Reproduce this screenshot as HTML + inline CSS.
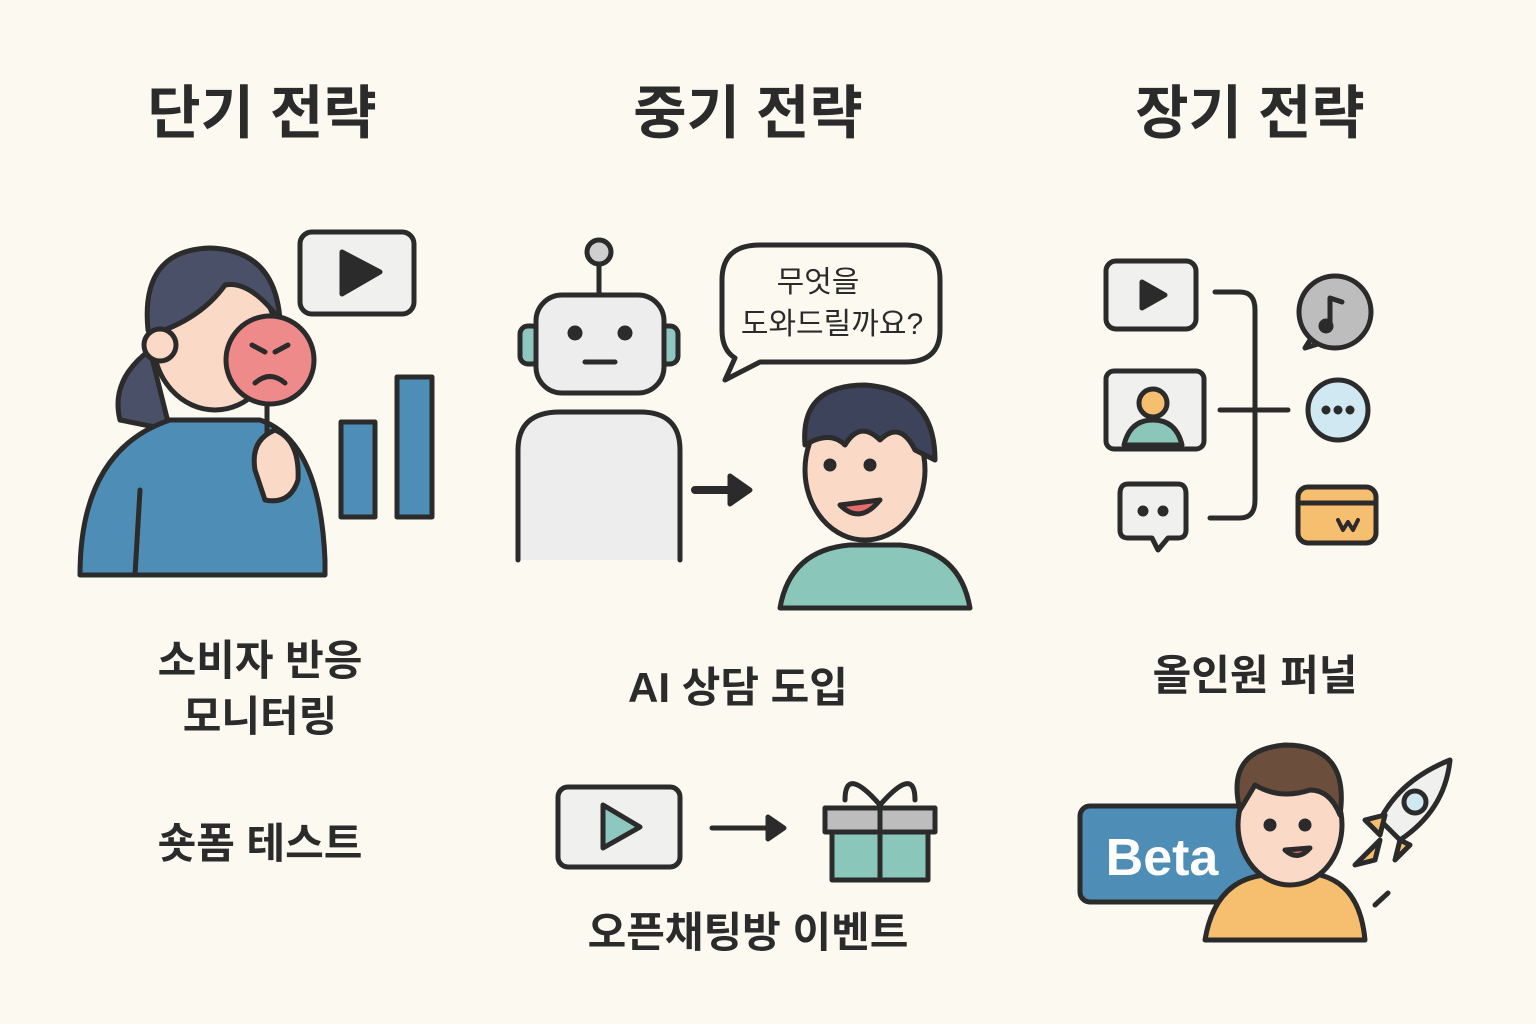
<!DOCTYPE html>
<html><head><meta charset="utf-8"><style>
html,body{margin:0;padding:0;background:#fcf9f1;}
svg{display:block}
text{font-family:"Liberation Sans","Noto Sans CJK KR",sans-serif;fill:#2b2b2b;font-weight:bold;text-anchor:middle}
</style></head><body>
<svg width="1536" height="1024" viewBox="0 0 1536 1024" xmlns="http://www.w3.org/2000/svg">
<rect width="1536" height="1024" fill="#fcf9f1"/>
<g font-size="58">
<text x="262" y="133">단기 전략</text>
<text x="748" y="133">중기 전략</text>
<text x="1250" y="133">장기 전략</text>
</g>
<g font-size="42">
<text x="260" y="675">소비자 반응</text>
<text x="260" y="731">모니터링</text>
<text x="260" y="858">숏폼 테스트</text>
<text x="738" y="702">AI 상담 도입</text>
<text x="748" y="947">오픈채팅방 이벤트</text>
<text x="1255" y="690">올인원 퍼널</text>
</g>
<g stroke="#2b2b2b" stroke-width="5" stroke-linejoin="round" stroke-linecap="round">
<!-- Left: woman -->
<path d="M120 420 Q110 380 150 350 L170 430 Z" fill="#4a5068"/>
<path d="M80 575 Q80 450 170 420 L260 420 Q320 440 325 560 L325 575 Z" fill="#4e8db5"/>
<line x1="140" y1="490" x2="135" y2="575"/>
<ellipse cx="215" cy="340" rx="62" ry="70" fill="#fbd9c7"/>
<path d="M148 330 Q140 250 210 248 Q275 250 280 320 Q250 280 225 285 Q200 320 150 335 Z" fill="#4a5068"/>
<circle cx="160" cy="345" r="16" fill="#fbd9c7"/>
<line x1="267" y1="405" x2="267" y2="460"/>
<circle cx="270" cy="360" r="44" fill="#ef8a8a"/>
<path d="M255 383 Q270 370 285 383" fill="none"/>
<path d="M252 345 L265 352 M288 345 L275 352" fill="none"/>
<path d="M255 470 Q250 440 275 430 Q300 440 298 480 Q290 505 265 500 Z" fill="#fbd9c7"/>
<rect x="300" y="232" width="114" height="82" rx="12" fill="#f0f0ee"/>
<path d="M342 252 L380 272 L342 294 Z" fill="#2b2b2b"/>
<rect x="341" y="422" width="34" height="95" fill="#4e8db5"/>
<rect x="397" y="377" width="35" height="140" fill="#4e8db5"/>
<!-- Middle: robot -->
<line x1="599" y1="262" x2="599" y2="295"/>
<circle cx="599" cy="252" r="12" fill="#cfcfcf"/>
<rect x="520" y="326" width="20" height="38" rx="8" fill="#8ec6c0"/>
<rect x="658" y="326" width="20" height="38" rx="8" fill="#8ec6c0"/>
<rect x="536" y="295" width="128" height="98" rx="26" fill="#ededed"/>
<circle cx="575" cy="333" r="5" fill="#2b2b2b"/><circle cx="625" cy="333" r="5" fill="#2b2b2b"/>
<line x1="585" y1="362" x2="615" y2="362"/>
<path d="M518 560 L518 450 Q518 412 560 412 L640 412 Q680 412 680 450 L680 560" fill="#ededed"/>
<path d="M695 490 L735 490" stroke-width="8"/><path d="M730 476 L750 490 L730 504 Z" fill="#2b2b2b"/>
<path d="M760 245 L905 245 Q940 245 940 280 L940 330 Q940 362 905 362 L760 362 L725 380 L735 358 Q722 350 722 330 L722 280 Q722 245 760 245 Z" fill="#fcf9f1"/>
<path d="M780 608 Q790 550 850 545 L900 545 Q960 550 970 608 Z" fill="#8ac6b9"/>
<ellipse cx="865" cy="470" rx="60" ry="70" fill="#fbd9c7"/>
<circle cx="830" cy="465" r="4" fill="#2b2b2b"/><circle cx="870" cy="465" r="4" fill="#2b2b2b"/>
<path d="M805 445 Q800 385 865 385 Q935 390 935 460 L915 450 Q900 420 880 440 Q860 420 845 445 Q830 430 805 445 Z" fill="#3c435a"/>
<path d="M840 505 Q860 525 880 500 Z" fill="#e86b6b"/>
<rect x="558" y="787" width="122" height="80" rx="10" fill="#f0f0ee"/>
<path d="M603 805 L640 827 L603 848 Z" fill="#8ec6c0"/>
<line x1="712" y1="828" x2="770" y2="828"/><path d="M768 817 L784 828 L768 839 Z" fill="#2b2b2b"/>
<rect x="832" y="830" width="96" height="50" fill="#8ac6b9"/>
<rect x="825" y="808" width="110" height="24" fill="#bdbdbd"/>
<line x1="880" y1="808" x2="880" y2="880"/>
<path d="M880 805 Q845 765 845 800 M880 805 Q915 765 915 800" fill="none"/>
<!-- Right -->
<rect x="1106" y="261" width="90" height="68" rx="10" fill="#f0f0ee"/>
<path d="M1142 282 L1165 295 L1142 308 Z" fill="#2b2b2b"/>
<rect x="1106" y="371" width="98" height="78" rx="8" fill="#f0f0ee"/>
<circle cx="1153" cy="403" r="14" fill="#f6be6f"/>
<path d="M1124 445 Q1130 420 1153 420 Q1176 420 1182 445 Z" fill="#8ac6b9"/>
<path d="M1128 484 L1178 484 Q1186 484 1186 494 L1186 530 Q1186 538 1178 538 L1168 538 L1158 550 L1152 538 L1128 538 Q1120 538 1120 530 L1120 494 Q1120 484 1128 484 Z" fill="#f0f0ee"/>
<circle cx="1143" cy="511" r="3" fill="#2b2b2b"/><circle cx="1163" cy="511" r="3" fill="#2b2b2b"/>
<path d="M1215 292 L1240 292 Q1255 292 1255 310 L1255 500 Q1255 518 1240 518 L1210 518" fill="none"/>
<line x1="1220" y1="410" x2="1288" y2="410"/>
<path d="M1310 340 L1305 348 L1318 344" fill="#bdbdbd"/>
<circle cx="1335" cy="312" r="36" fill="#bdbdbd"/>
<path d="M1330 325 L1330 298 L1342 302" fill="none"/><circle cx="1326" cy="326" r="5" fill="#2b2b2b"/>
<circle cx="1338" cy="410" r="30" fill="#cfe8f2"/>
<circle cx="1326" cy="410" r="2" fill="#2b2b2b"/><circle cx="1338" cy="410" r="2" fill="#2b2b2b"/><circle cx="1350" cy="410" r="2" fill="#2b2b2b"/>
<rect x="1298" y="487" width="78" height="56" rx="10" fill="#f6be6f"/>
<line x1="1298" y1="503" x2="1376" y2="503"/>
<path d="M1338 520 L1343 530 L1348 522 L1353 530 L1358 520" fill="none" stroke-width="4"/>
<!-- Beta -->
<rect x="1080" y="806" width="190" height="96" rx="10" fill="#4e8db5"/>
<text x="1162" y="875" font-size="52" style="fill:#fff" stroke="none">Beta</text>
<path d="M1205 940 Q1215 880 1265 875 L1320 875 Q1360 885 1365 940 Z" fill="#f6be6f"/>
<ellipse cx="1290" cy="825" rx="52" ry="60" fill="#fbd9c7"/>
<path d="M1240 810 Q1225 750 1285 745 Q1350 745 1340 815 Q1330 790 1310 790 Q1280 800 1255 785 Z" fill="#6b4f3c"/>
<circle cx="1270" cy="825" r="4" fill="#2b2b2b"/><circle cx="1305" cy="825" r="4" fill="#2b2b2b"/>
<path d="M1285 850 Q1298 862 1310 848 Z" fill="#e86b6b"/>
<path d="M1380 820 Q1400 780 1450 760 Q1445 810 1400 840 Z" fill="#f0f0ee"/>
<circle cx="1415" cy="802" r="11" fill="#cfe8f2"/>
<path d="M1385 815 L1365 820 L1380 835 Z M1400 840 L1395 860 L1410 845 Z" fill="#f6be6f"/>
<path d="M1380 840 L1355 865 L1375 860 Z" fill="#f6be6f"/>
<line x1="1375" y1="905" x2="1388" y2="893"/>
</g>
<g font-size="30" font-weight="normal">
<text x="818" y="292" style="font-weight:normal">무엇을</text>
<text x="832" y="334" style="font-weight:normal">도와드릴까요?</text>
</g>
</svg>
</body></html>
